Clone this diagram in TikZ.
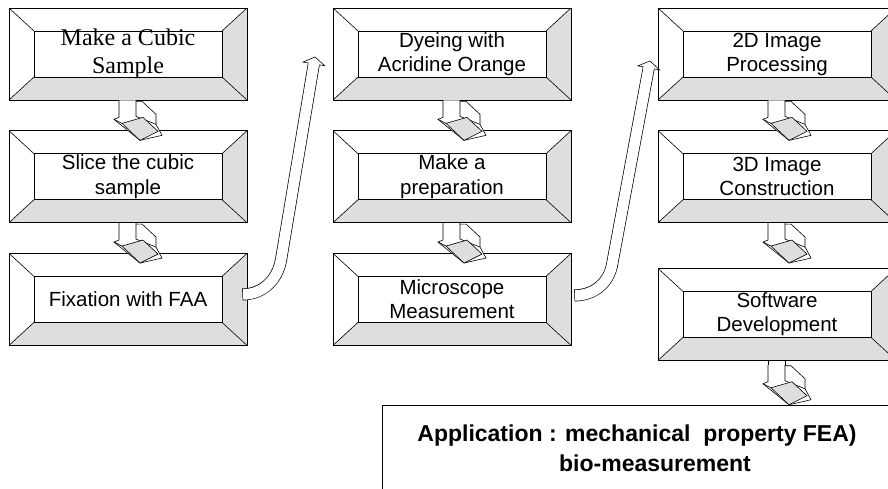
\documentclass[tikz,border=0pt]{standalone}
\usepackage{fontspec}
\newfontfamily\arialfont{Liberation Sans}
\newfontfamily\timesfont{Liberation Serif}
\usepackage{tikz}
\usetikzlibrary{calc,positioning}

\begin{document}
\begin{tikzpicture}[%
    x=1pt, y=1pt,
    node distance=30pt,
    speck/.style={fill=black!13},
    bevel/.style={draw, line width=0.7pt, minimum width=238pt, minimum height=92pt,
      inner sep=0pt, align=center, font=\arialfont\fontsize{20.5}{24}\selectfont,
      path picture={
        \coordinate (oSW) at (path picture bounding box.south west);
        \coordinate (oNE) at (path picture bounding box.north east);
        \coordinate (oNW) at (oSW |- oNE);
        \coordinate (oSE) at (oNE |- oSW);
        \coordinate (iSW) at ($(oSW)+(25pt,23pt)$);
        \coordinate (iNE) at ($(oNE)+(-25pt,-23pt)$);
        \coordinate (iNW) at ($(oNW)+(25pt,-23pt)$);
        \coordinate (iSE) at ($(oSE)+(-25pt,23pt)$);
        \fill[speck] (oSW) -- (oSE) -- (iSE) -- (iSW) -- cycle;
        \fill[speck] (oSE) -- (oNE) -- (iNE) -- (iSE) -- cycle;
        \draw[line width=0.6pt] (iSW) rectangle (iNE);
        \draw[line width=0.6pt] (oSW) -- (iSW) (oSE) -- (iSE) (oNE) -- (iNE) (oNW) -- (iNW);
      }},
    fold/.pic={
      \draw[fill=white, line width=0.6pt] (-9pt,0pt) -- (-9pt,-17pt) -- (-14pt,-19pt) -- (12pt,-40pt)
        -- (34pt,-35pt) -- (28pt,-24pt) -- (28pt,-14pt) -- (14pt,-1pt) -- (8pt,-1pt) -- (8pt,0pt);
      \draw[line width=0.6pt] (8pt,-1pt) -- (8pt,-16pt) -- (28pt,-24pt);
      \filldraw[speck, draw=black, line width=0.6pt] (-6pt,-23pt) -- (15pt,-17pt) -- (30pt,-31pt) -- (12pt,-40pt) -- cycle;
      \draw[line width=0.6pt] (-14pt,-19pt) -- (-6pt,-23pt);
    }
    ]

    \useasboundingbox (0,0) rectangle (888,488);
    \clip (0,0) rectangle (888,488);

    % first column
    \node[bevel, font=\timesfont\fontsize{24}{28}\selectfont] (cubic) at (128,434) {Make a Cubic\\Sample};
    \node[bevel] (slice) [below=of cubic] {Slice the cubic\\sample};
    \node[bevel] (fix) [below=of slice] {Fixation with FAA};

    % second column
    \node[bevel] (dye) at (452,434) {Dyeing with\\Acridine Orange};
    \node[bevel] (prep) [below=of dye] {Make a\\preparation};
    \node[bevel] (micro) [below=of prep] {Microscope\\Measurement};

    % third column
    \node[bevel] (proc) at (777,434) {2D Image\\Processing};
    \node[bevel] (cons) [below=of proc] {3D Image\\Construction};
    \node[bevel] (soft) [below=45pt of cons] {Software\\Development};

    \node[draw, line width=0.7pt, minimum width=510pt, minimum height=86pt, align=center,
      font=\arialfont\bfseries\fontsize{23}{30}\selectfont] (app) at (637,40)
      {Application : mechanical~ property FEA)\\\hspace*{36pt}bio-measurement};

    % folded arrows
    \pic at (cubic.south) {fold};
    \pic at (slice.south) {fold};
    \pic at (dye.south) {fold};
    \pic at (prep.south) {fold};
    \pic at (proc.south) {fold};
    \pic at (cons.south) {fold};
    \pic at ([yshift=-4pt]soft.south) {fold};
    \draw[line width=0.6pt] ([xshift=-9pt]soft.south) -- ++(0,-4pt) ([xshift=8pt]soft.south) -- ++(0,-4pt);

    % hollow arrows between columns
    \coordinate (s1) at ([xshift=-5pt,yshift=5pt]fix.east);
    \coordinate (bend1) at (281,228);
    \coordinate (tip1) at (315,431);
    \coordinate (hb1) at ($(tip1)!7pt!(bend1)$);
    \coordinate (s2) at ([xshift=3pt,yshift=4pt]micro.east);
    \coordinate (bend2) at (612,223);
    \coordinate (tip2) at (650,427);
    \coordinate (hb2) at ($(tip2)!7pt!(bend2)$);

    \draw[line width=12pt] (s1) to[out=0,in=260] (bend1) -- (hb1);
    \draw[white, line width=10.6pt, shorten <=0.7pt] (s1) to[out=0,in=260] (bend1) -- (hb1);
    \filldraw[fill=white, line width=0.6pt] ($(hb1)!11pt!90:(tip1)$) -- (tip1) -- ($(hb1)!11pt!-90:(tip1)$) -- cycle;
    \draw[white, line width=10.6pt] ($(hb1)!-0.8pt!(tip1)$) -- ($(hb1)!0.8pt!(tip1)$);

    \draw[line width=12pt] (s2) to[out=0,in=259] (bend2) -- (hb2);
    \draw[white, line width=10.6pt, shorten <=0.7pt] (s2) to[out=0,in=259] (bend2) -- (hb2);
    \filldraw[fill=white, line width=0.6pt] ($(hb2)!11pt!90:(tip2)$) -- (tip2) -- ($(hb2)!11pt!-90:(tip2)$) -- cycle;
    \draw[white, line width=10.6pt] ($(hb2)!-0.8pt!(tip2)$) -- ($(hb2)!0.8pt!(tip2)$);

\end{tikzpicture}
\end{document}
